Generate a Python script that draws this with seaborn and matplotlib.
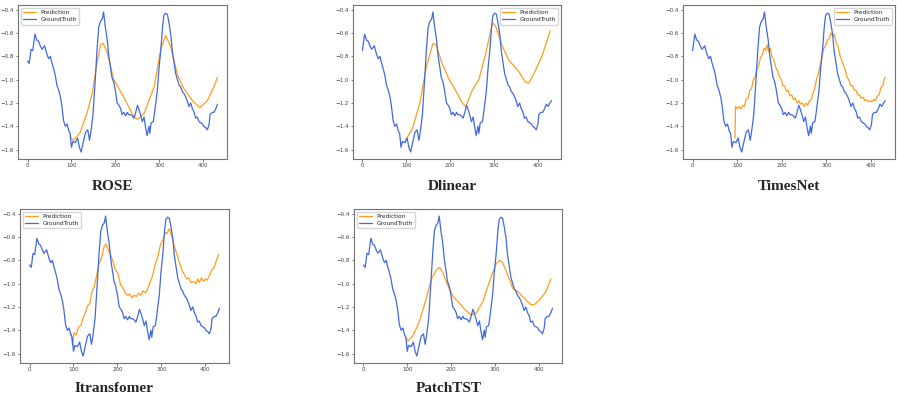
import matplotlib
matplotlib.use("Agg")
import matplotlib.pyplot as plt
import pandas as pd
import seaborn as sns

# ground truth series (shared by all panels, read on the ROSE x-scale)
gt_x = [0, 4, 8, 12, 14, 17, 21, 25, 29, 33, 39, 44, 48, 52, 55, 59, 63, 67, 71, 75,
        78, 82, 86, 90, 94, 97, 100, 103, 109, 114, 118, 122, 126, 132, 137, 141, 144, 149, 154, 158,
        162, 166, 170, 173, 177, 181, 185, 189, 192, 196, 200, 204, 208, 212, 215, 219, 223, 227, 230, 234,
        238, 242, 246, 250, 253, 257, 261, 265, 268, 272, 276, 278, 281, 286, 289, 295, 299, 303, 307, 310,
        314, 318, 322, 326, 329, 333, 337, 341, 345, 348, 352, 356, 360, 363, 367, 371, 375, 379, 382, 386,
        390, 394, 398, 401, 405, 409, 413, 415, 420, 424, 428, 432, 436, 440, 444]
gt_y = [-0.84, -0.86, -0.74, -0.75, -0.69, -0.61, -0.66, -0.67, -0.71, -0.74, -0.71, -0.78, -0.82, -0.80, -0.85, -0.90, -0.96, -1.05, -1.09, -1.15,
        -1.22, -1.35, -1.40, -1.38, -1.44, -1.46, -1.58, -1.53, -1.54, -1.50, -1.58, -1.62, -1.55, -1.45, -1.43, -1.52, -1.45, -1.30, -1.00, -0.75,
        -0.55, -0.50, -0.48, -0.42, -0.55, -0.65, -0.80, -0.90, -0.98, -1.02, -1.10, -1.20, -1.22, -1.25, -1.30, -1.28, -1.31, -1.28, -1.30, -1.30,
        -1.31, -1.33, -1.28, -1.22, -1.25, -1.30, -1.36, -1.32, -1.40, -1.48, -1.40, -1.46, -1.37, -1.36, -1.28, -1.10, -0.90, -0.75, -0.55, -0.45,
        -0.43, -0.44, -0.52, -0.62, -0.75, -0.85, -0.95, -1.00, -1.05, -1.06, -1.10, -1.12, -1.15, -1.18, -1.23, -1.20, -1.25, -1.28, -1.33, -1.32,
        -1.36, -1.37, -1.38, -1.40, -1.41, -1.43, -1.38, -1.30, -1.28, -1.28, -1.25, -1.21, -1.23, -1.20, -1.18]

rose_x = [96, 105, 120, 135, 147, 158, 166, 172, 180, 196, 219, 242, 250, 265, 288, 303, 314, 326, 341, 356, 375, 392, 409, 424, 432]
rose_y = [-1.49, -1.52, -1.45, -1.29, -1.12, -0.86, -0.70, -0.69, -0.75, -1.00, -1.15, -1.32, -1.34, -1.29, -1.06, -0.74, -0.62, -0.72, -0.96, -1.08, -1.18, -1.24, -1.18, -1.06, -0.98]

dlinear_x = [96, 115, 131, 146, 161, 168, 183, 198, 214, 228, 236, 251, 266, 282, 297, 304, 319, 334, 357, 372, 380, 394, 410, 429]
dlinear_y = [-1.54, -1.41, -1.20, -0.89, -0.69, -0.70, -0.87, -1.00, -1.10, -1.20, -1.23, -1.09, -1.00, -0.77, -0.51, -0.54, -0.71, -0.83, -0.93, -1.02, -1.03, -0.93, -0.80, -0.58]

timesnet_x = [95, 96, 100, 104, 108, 112, 116, 120, 124, 128, 132, 136, 140, 144, 148, 152, 156, 160, 164, 167,
              170, 174, 178, 182, 186, 190, 194, 198, 202, 206, 210, 214, 218, 222, 226, 230, 234, 238, 242, 246,
              250, 254, 258, 262, 266, 270, 274, 278, 282, 286, 290, 294, 298, 302, 306, 310, 314, 318, 322, 326,
              330, 334, 338, 342, 346, 350, 354, 358, 362, 366, 370, 374, 378, 382, 386, 390, 394, 398, 402, 406,
              410, 414, 418, 422, 426, 430, 432]
timesnet_y = [-1.50, -1.23, -1.25, -1.23, -1.25, -1.22, -1.23, -1.17, -1.16, -1.09, -1.08, -1.00, -0.98, -0.91, -0.88, -0.81, -0.79, -0.73, -0.75, -0.70,
              -0.76, -0.73, -0.81, -0.83, -0.89, -0.92, -0.97, -0.99, -1.05, -1.05, -1.10, -1.09, -1.14, -1.13, -1.17, -1.16, -1.20, -1.18, -1.21, -1.20,
              -1.23, -1.20, -1.22, -1.18, -1.17, -1.11, -1.07, -0.99, -0.95, -0.87, -0.81, -0.73, -0.71, -0.66, -0.65, -0.60, -0.63, -0.61, -0.69, -0.71,
              -0.79, -0.83, -0.88, -0.91, -0.98, -1.00, -1.05, -1.05, -1.09, -1.09, -1.13, -1.13, -1.16, -1.15, -1.18, -1.17, -1.19, -1.18, -1.19, -1.17,
              -1.18, -1.14, -1.13, -1.07, -1.05, -0.99, -0.98]

itrans_x = [95, 98, 101, 106, 112, 117, 122, 127, 132, 137, 142, 147, 152, 158, 163, 169, 174, 179, 184, 190,
            195, 201, 207, 212, 218, 223, 228, 233, 238, 243, 248, 253, 258, 264, 270, 275, 280, 286, 292, 298,
            303, 309, 313, 317, 321, 324, 330, 336, 341, 347, 352, 357, 362, 367, 373, 378, 382, 386, 391, 396,
            400, 404, 409, 415, 420, 425, 430]
itrans_y = [-1.43, -1.53, -1.42, -1.44, -1.37, -1.36, -1.29, -1.25, -1.19, -1.17, -1.07, -1.03, -0.94, -0.83, -0.79, -0.69, -0.66, -0.71, -0.75, -0.81,
            -0.88, -0.91, -1.01, -1.03, -1.08, -1.10, -1.09, -1.12, -1.10, -1.11, -1.08, -1.10, -1.06, -1.08, -1.03, -0.98, -0.93, -0.83, -0.77, -0.66,
            -0.63, -0.56, -0.57, -0.53, -0.56, -0.60, -0.69, -0.76, -0.82, -0.89, -0.92, -0.96, -0.95, -0.99, -0.98, -1.00, -0.96, -0.99, -0.95, -0.98,
            -0.96, -0.97, -0.93, -0.88, -0.86, -0.80, -0.75]

patch_x = [96, 102, 114, 129, 144, 155, 167, 174, 182, 193, 205, 220, 231, 246, 258, 273, 288, 303, 311, 318, 330, 341, 356, 371, 383, 390, 402, 417, 428]
patch_y = [-1.46, -1.49, -1.44, -1.31, -1.12, -0.96, -0.88, -0.86, -0.91, -1.02, -1.11, -1.17, -1.22, -1.27, -1.25, -1.15, -0.98, -0.83, -0.80, -0.82, -0.93, -1.04, -1.08, -1.14, -1.18, -1.18, -1.14, -1.07, -0.96]

titles = ["ROSE", "Dlinear", "TimesNet", "Itransfomer", "PatchTST"]
preds = [(rose_x, rose_y), (dlinear_x, dlinear_y), (timesnet_x, timesnet_y),
         (itrans_x, itrans_y), (patch_x, patch_y)]
gt_offsets = [0, 12, 12, 0, 0]
gt_length = 432

# axes boxes in pixels: left, top, right, bottom; title centre x, y
boxes = [(18, 5, 227, 159, 113, 186), (353, 5, 561, 159, 452, 186), (683, 5, 895, 159, 789, 186),
         (20, 209, 229, 363, 114, 389), (354, 209, 562, 363, 449, 389)]
legend_locs = ["upper left", "upper right", "upper right", "upper left", "upper left"]

W, H = 897, 396
PRED_COLOR = "#ff9f1c"
GT_COLOR = "#4169e1"

sns.set_style("ticks", rc={"axes.edgecolor": "0.45", "axes.linewidth": 1.2})
plt.rcParams["font.family"] = ["DejaVu Sans"]

fig = plt.figure(figsize=(W / 100, H / 100), dpi=100)
gt = pd.DataFrame({"x": gt_x, "y": gt_y})

for title, (px, py), off, box, loc in zip(titles, preds, gt_offsets, boxes, legend_locs):
    left, top, right, bottom, tx, ty = box
    ax = fig.add_axes([left / W, 1 - bottom / H, (right - left) / W, (bottom - top) / H])
    g = gt[(gt.x >= off) & (gt.x <= off + gt_length)].copy()
    g["x"] = g["x"] - off
    sns.lineplot(x=px, y=py, ax=ax, color=PRED_COLOR, linewidth=0.9, label="Prediction")
    sns.lineplot(data=g, x="x", y="y", ax=ax, color=GT_COLOR, linewidth=0.9, label="GroundTruth")
    ax.set_xlabel("")
    ax.set_ylabel("")
    ax.set_xticks([0, 100, 200, 300, 400])
    ax.set_yticks([-1.6, -1.4, -1.2, -1.0, -0.8, -0.6, -0.4])
    ax.tick_params(labelsize=4.0, length=1.8, width=0.5, colors="0.25", pad=1.2)
    for s in ax.spines.values():
        s.set_visible(True)
    ax.legend(loc=loc, fontsize=4.2, handlelength=2.2, borderpad=0.4, labelspacing=0.3)
    fig.text(tx / W, 1 - ty / H, title, ha="center", va="center", fontsize=11,
             fontweight="bold", family=["Liberation Serif", "DejaVu Serif"])

fig.savefig("out.png", dpi=100)
